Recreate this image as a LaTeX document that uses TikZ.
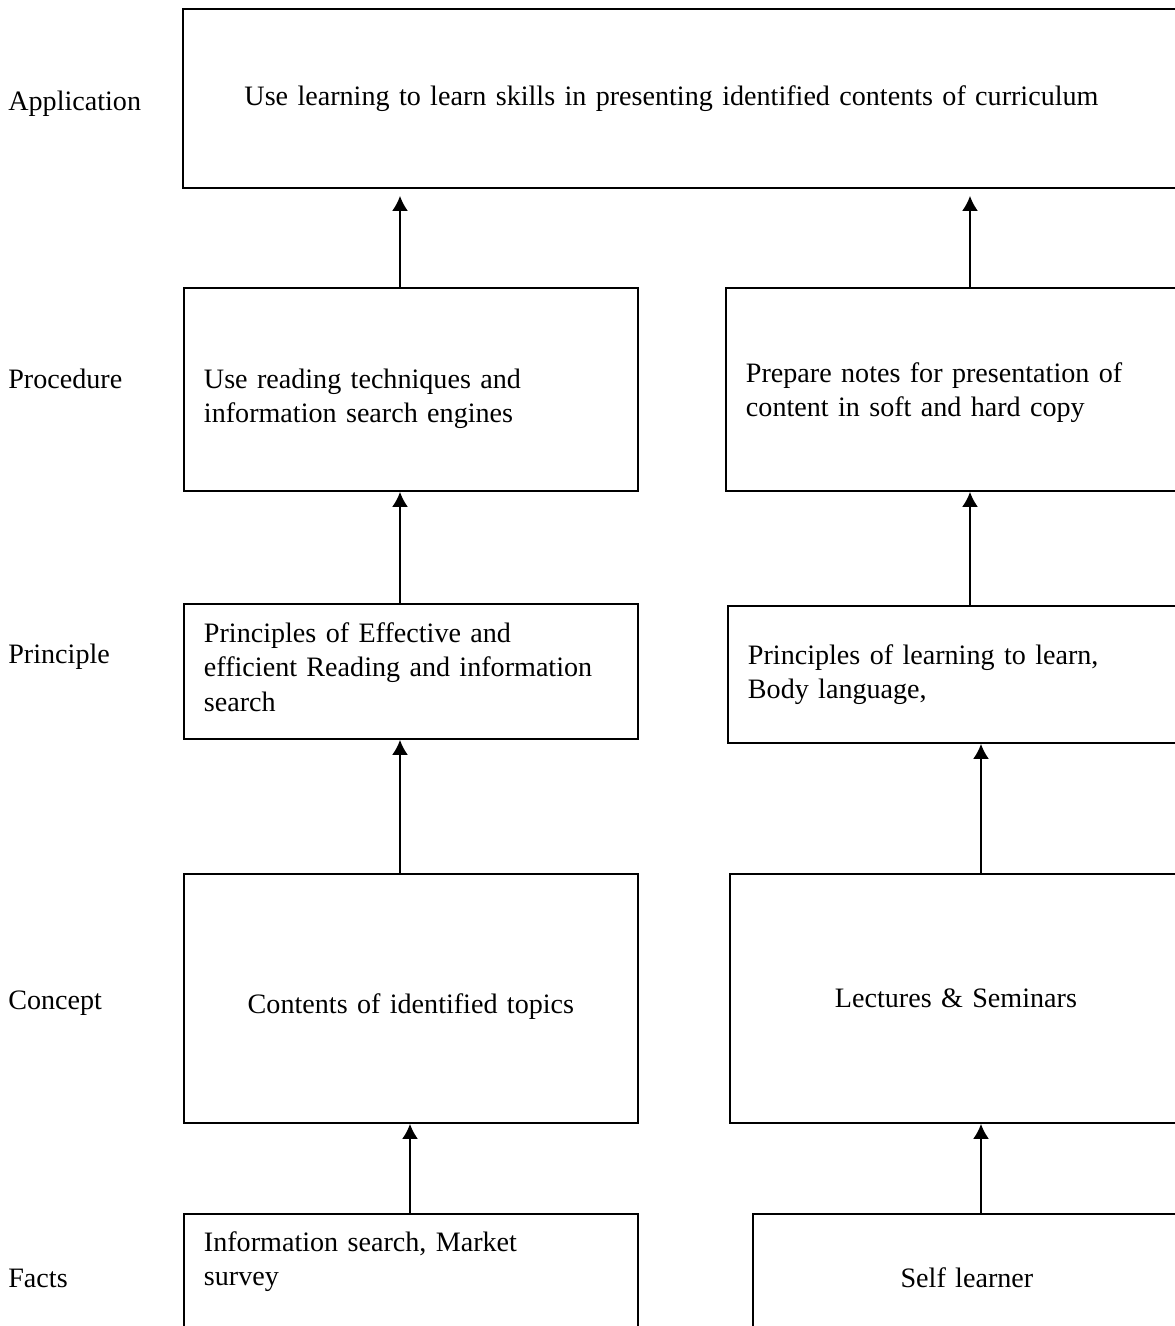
\documentclass[tikz,border=0pt]{standalone}
\usepackage{fontspec}
\setmainfont{Liberation Serif}
\usetikzlibrary{arrows.meta}

\begin{document}
\begin{tikzpicture} [
		x = 0.02cm,
		y = -0.02cm,
		font = \fontsize{16}{19.6}\selectfont,
		box/.style = {
			draw,
			line width = 1.1pt,
			anchor = north west,
			inner xsep = 0.4cm,
			inner ysep = 0pt,
			align = left,
		},
		% push the text of a box down (taller first line) or up (deeper last line)
		drop/.style = {
			execute at begin node = {\rule{0pt}{#1}},
		},
		lift/.style = {
			execute at end node = {\rule[-#1]{0pt}{0pt}},
		},
		level/.style = {
			anchor = west,
			inner sep = 0pt,
		},
		line/.style = {
			draw,
			line width = 1.1pt,
			-{Latex[length=0.3cm, width=0.32cm]},
		},
	]

	\useasboundingbox (0,0) rectangle (1175,1326);
	\clip (0,0) rectangle (1175,1326);

	% levels
	\node[level] (lvApp) at (8,104) {Application};
	\node[level] (lvProc) at (8,379) {Procedure};
	\node[level] (lvPrin) at (8,657) {Principle};
	\node[level] (lvConc) at (8,1003) {Concept};
	\node[level] (lvFact) at (8,1278) {Facts};

	% boxes
	\node[box, minimum width = 20.36cm, minimum height = 3.58cm,
		inner xsep = 1.22cm, text width = 17.9cm] (app) at (182,8) {
		Use learning to learn skills in presenting identified contents of curriculum
	};

	\node[box, minimum width = 9.08cm, minimum height = 4.06cm, text width = 8.28cm,
		drop = 22pt] (procL) at (183,287) {
		Use reading techniques and\\information search engines
	};
	\node[box, minimum width = 9.5cm, minimum height = 4.06cm, text width = 8.7cm,
		drop = 15pt] (procR) at (725,287) {
		Prepare notes for presentation of\\content in soft and hard copy
	};

	\node[box, minimum width = 9.08cm, minimum height = 2.7cm, text width = 8.28cm,
		lift = 5pt] (prinL) at (183,603) {
		Principles of Effective and\\efficient Reading and information\\search
	};
	\node[box, minimum width = 9.5cm, minimum height = 2.74cm, text width = 8.7cm,
		lift = 3.5pt] (prinR) at (727,605) {
		Principles of learning to learn,\\Body language,
	};

	\node[box, minimum width = 9.08cm, minimum height = 4.98cm, text width = 8.28cm,
		align = center, drop = 21pt] (concL) at (183,873) {
		Contents of identified topics
	};
	\node[box, minimum width = 9.04cm, minimum height = 4.98cm, text width = 8.24cm,
		align = center] (concR) at (729,873) {
		Lectures \& Seminars
	};

	\node[box, minimum width = 9.08cm, minimum height = 2.54cm, text width = 8.28cm,
		drop = 15pt] (factL) at (183,1213) {
		Information search, Market\\survey\\\strut
	};
	\node[box, minimum width = 8.56cm, minimum height = 2.54cm, text width = 7.76cm,
		align = center] (factR) at (752,1213) {
		Self learner
	};

	% arrow columns
	\coordinate (colA) at (400,0);
	\coordinate (colB) at (410,0);
	\coordinate (colC) at (970,0);
	\coordinate (colD) at (981,0);

	\begin{scope} [
		every path/.style = line
		]
		\path (procL.north -| colA) -- ([yshift=-0.14cm]app.south -| colA);
		\path (procR.north -| colC) -- ([yshift=-0.14cm]app.south -| colC);

		\path (prinL.north -| colA) -- (procL.south -| colA);
		\path (prinR.north -| colC) -- (procR.south -| colC);

		\path (concL.north -| colA) -- (prinL.south -| colA);
		\path (concR.north -| colD) -- (prinR.south -| colD);

		\path (factL.north -| colB) -- (concL.south -| colB);
		\path (factR.north -| colD) -- (concR.south -| colD);
	\end{scope}
\end{tikzpicture}
\end{document}
